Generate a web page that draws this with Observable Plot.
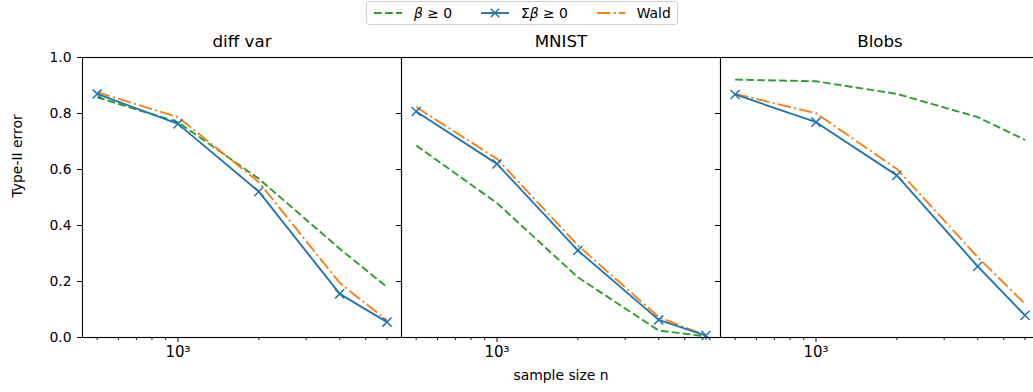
<!DOCTYPE html>
<html>
<head>
<meta charset="utf-8">
<script src="https://cdn.jsdelivr.net/npm/d3@7"></script>
<script src="https://cdn.jsdelivr.net/npm/@observablehq/plot@0.6"></script>
<style>
  html, body { margin: 0; padding: 0; background: #fff; overflow: hidden; }
  #wrap { width: 1033px; height: 392px; overflow: hidden; font-family: "DejaVu Sans", sans-serif; color: #000; }
  #legend { height: 28px; position: relative; }
  #legend .box { position: absolute; left: 366px; top: 1px; height: 24px; box-sizing: border-box;
    border: 1px solid #d0d0d0; border-radius: 3px; display: flex; align-items: center; padding: 0 6px; font-size: 13.9px; }
  #legend .item { display: flex; align-items: center; margin-right: 27.8px; }
  #legend .item:last-child { margin-right: 0; }
  #legend svg { display: block; margin-right: 11px; }
  #chart { width: 1040px; }
  #chart svg { display: block; max-width: none !important; }
</style>
</head>
<body>
<div id="wrap">
  <div id="legend"></div>
  <div id="chart"></div>
</div>
<script>
// ---- data ----
const datasets = ["diff var", "MNIST", "Blobs"];
const sampleSizes = [500, 1000, 2000, 4000, 6000];
const methods = ["β ≥ 0", "Σβ ≥ 0", "Wald"];
const methodColors = ["#2ca02c", "#1f77b4", "#ff7f0e"];

// Type-II error per dataset, per method (values at sampleSizes)
const diffVarPos    = [0.858, 0.769, 0.567, 0.317, 0.180];
const diffVarSum    = [0.870, 0.763, 0.521, 0.156, 0.055];
const diffVarWald   = [0.876, 0.787, 0.555, 0.195, 0.061];
const mnistPos      = [0.686, 0.480, 0.215, 0.025, 0.004];
const mnistSum      = [0.807, 0.620, 0.311, 0.063, 0.007];
const mnistWald     = [0.823, 0.638, 0.329, 0.073, 0.007];
const blobsPos      = [0.921, 0.915, 0.870, 0.787, 0.706];
const blobsSum      = [0.868, 0.769, 0.579, 0.254, 0.079];
const blobsWald     = [0.870, 0.801, 0.602, 0.287, 0.120];

const yTicks = [0, 0.2, 0.4, 0.6, 0.8, 1.0];
const xMajorTicks = [1000];
const xMinorTicks = [500, 600, 700, 800, 900, 2000, 3000, 4000, 5000, 6000];
const xMajorLabels = ["10³"];

// ---- build tables ----
const seriesTable = {
  "diff var": [diffVarPos, diffVarSum, diffVarWald],
  "MNIST": [mnistPos, mnistSum, mnistWald],
  "Blobs": [blobsPos, blobsSum, blobsWald]
};
function rowsFor(mi) {
  const out = [];
  for (const ds of datasets) {
    seriesTable[ds][mi].forEach((v, i) => out.push({dataset: ds, method: methods[mi], n: sampleSizes[i], err: v}));
  }
  return out;
}
const posRows = rowsFor(0), sumRows = rowsFor(1), waldRows = rowsFor(2);

const FS = 13.9;
const DASH = "7.7,3.3";
const DASHDOT = "13.3,3.3,2.1,3.3";
const chart = Plot.plot({
  width: 1040,
  height: 364,
  marginLeft: 82,
  marginRight: 1,
  marginTop: 29,
  marginBottom: 55,
  style: {fontFamily: "DejaVu Sans, sans-serif", fontSize: FS + "px", color: "#000", background: "#fff", overflow: "visible"},
  fx: {domain: datasets, padding: 0},
  x: {type: "log", domain: [441, 6793]},
  y: {domain: [0, 1]},
  marks: [
    Plot.axisFx({anchor: "top", label: null, tickSize: 0, tickPadding: 11, fontSize: 16.7}),
    Plot.axisY({ticks: yTicks, tickFormat: d3.format(".1f"), tickSize: 4.9, tickPadding: 6, label: null, fontSize: FS}),
    Plot.axisY({ticks: yTicks, tickFormat: () => "", tickSize: 4.9, label: null, facetAnchor: null}),
    Plot.axisX({ticks: xMajorTicks, tickFormat: d => xMajorLabels[xMajorTicks.indexOf(+d)] ?? "", tickSize: 4.9, tickPadding: 4, label: null, fontSize: 15}),
    Plot.axisX({ticks: xMinorTicks, tickFormat: () => "", tickSize: 2.8, label: null}),
    Plot.line(posRows, {x: "n", y: "err", fx: "dataset", stroke: methodColors[0], strokeWidth: 1.9, strokeDasharray: DASH, strokeLinecap: "butt"}),
    Plot.line(waldRows, {x: "n", y: "err", fx: "dataset", stroke: methodColors[2], strokeWidth: 1.9, strokeDasharray: DASHDOT, strokeLinecap: "butt"}),
    Plot.line(sumRows, {x: "n", y: "err", fx: "dataset", stroke: methodColors[1], strokeWidth: 1.9}),
    Plot.dot(sumRows, {x: "n", y: "err", fx: "dataset", symbol: "times", r: 4.2, stroke: methodColors[1], strokeWidth: 1.5}),
    Plot.frame({stroke: "#000", strokeWidth: 1.1}),
    Plot.text(["sample size n"], {fx: ["MNIST"], text: d => d, frameAnchor: "bottom", dy: 42, fontSize: FS}),
    Plot.text(["Type-II error"], {fx: ["diff var"], text: d => d, frameAnchor: "left", dx: -65, rotate: -90, fontSize: FS})
  ]
});
document.getElementById("chart").appendChild(chart);

// ---- legend ----
const dashes = [DASH, null, DASHDOT];
const labels = ['<i>β</i> ≥ 0', 'Σ<i>β</i> ≥ 0', 'Wald'];
const box = document.createElement("div");
box.className = "box";
methods.forEach((m, i) => {
  const item = document.createElement("div");
  item.className = "item";
  const ns = "http://www.w3.org/2000/svg";
  const s = document.createElementNS(ns, "svg");
  s.setAttribute("width", 30); s.setAttribute("height", 14);
  const ln = document.createElementNS(ns, "line");
  ln.setAttribute("x1", 1); ln.setAttribute("x2", 29); ln.setAttribute("y1", 7); ln.setAttribute("y2", 7);
  ln.setAttribute("stroke", methodColors[i]); ln.setAttribute("stroke-width", 1.9);
  if (dashes[i]) ln.setAttribute("stroke-dasharray", dashes[i]);
  s.appendChild(ln);
  if (i === 1) {
    const p = document.createElementNS(ns, "path");
    p.setAttribute("d", "M10.8,2.8L19.2,11.2M10.8,11.2L19.2,2.8");
    p.setAttribute("stroke", methodColors[i]); p.setAttribute("stroke-width", 1.5);
    s.appendChild(p);
  }
  const t = document.createElement("span");
  t.innerHTML = labels[i];
  item.appendChild(s); item.appendChild(t);
  box.appendChild(item);
});
document.getElementById("legend").appendChild(box);
</script>
</body>
</html>
